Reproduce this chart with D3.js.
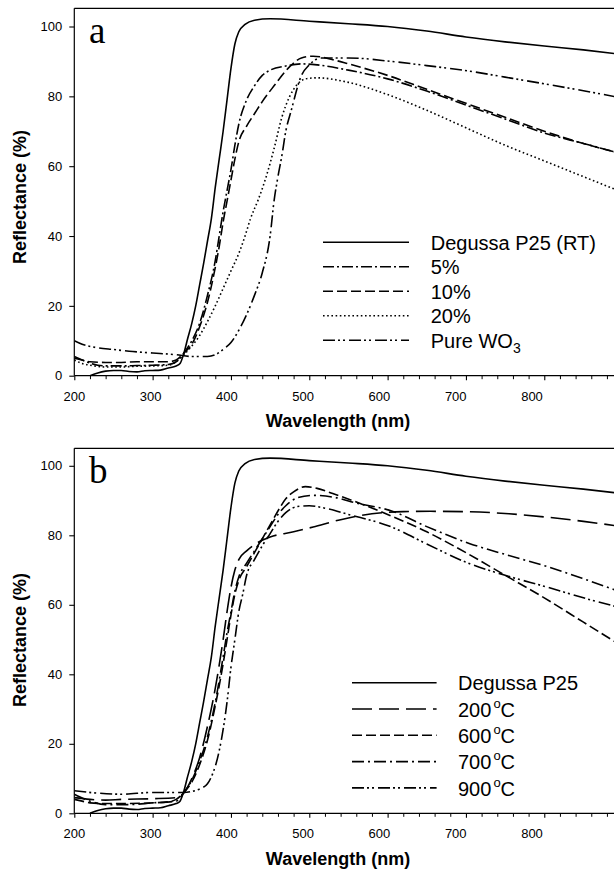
<!DOCTYPE html>
<html>
<head>
<meta charset="utf-8">
<script src="https://cdn.jsdelivr.net/npm/d3@7"></script>
<style>
  html, body { margin: 0; padding: 0; background: #fff; }
  svg { display: block; }
  .tick text { font-family: "Liberation Sans", Arial, sans-serif; font-size: 13px; fill: #000; }
</style>
</head>
<body>
<svg id="chart" width="614" height="871"></svg>
<script>
// ---------------- data ----------------
const xTicksMajor = [200, 300, 400, 500, 600, 700, 800, 900];
const xTickLabels = ["200", "300", "400", "500", "600", "700", "800", ""];
const yTicks = [0, 20, 40, 60, 80, 100];

// Degussa P25 (room temperature), same sample in both panels
const degussaP25 = [[220,0],[230,0.8],[240,1.3],[250,1.5],[260,1.5],[270,1.2],[280,1.1],[290,1.4],[300,1.5],[310,1.6],[320,2.2],[330,2.8],[335,3.5],[340,6.5],[344,10],[350,15],[355,20],[360,26],[365,32],[370,38.5],[375,45],[380,54],[385,62],[390,70],[395,79],[400,88],[405,95],[410,98.5],[418,100.6],[430,101.8],[450,102.2],[500,101.5],[550,100.8],[600,100],[650,98.7],[700,97],[750,95.6],[800,94.4],[850,93.3],[900,92]];

// panel a
const wo3_5 = [[200,5.5],[210,4.5],[220,3.6],[230,3],[240,2.8],[260,2.8],[280,2.9],[300,3],[320,3.2],[330,4],[340,6.5],[350,10],[360,15],[370,23],[380,33],[385,40],[390,47],[395,53],[400,59],[405,66],[410,72],[420,79],[430,83],[440,86],[450,87.5],[470,88.7],[490,89.3],[510,89],[550,87.5],[600,85],[650,81.5],[700,77.5],[750,73.5],[800,69.5],[850,66.5],[900,63.5]];
const wo3_10 = [[200,5],[210,4.5],[220,4],[240,3.8],[260,3.8],[280,4],[300,4],[320,4],[330,4.5],[340,6.5],[350,9],[360,14],[370,21],[380,31],[385,37],[390,44],[395,50],[400,56],[405,62],[410,67],[420,71.5],[430,75],[440,78.5],[455,83],[475,88.5],[490,91],[505,91.5],[530,90.5],[550,89.3],[600,86],[650,82],[700,78],[750,74],[800,70],[850,66.5],[900,63.5]];
const wo3_20 = [[200,4.5],[210,3.5],[220,3],[240,2.5],[260,2.5],[280,2.7],[300,2.8],[320,3],[330,4],[340,6],[350,8.5],[360,11.5],[370,15.5],[380,20],[390,25],[400,30],[410,35],[418,40],[425,45],[435,50.5],[445,57],[455,65],[465,74],[475,80],[485,83.5],[495,85],[510,85.3],[550,84],[600,80.5],[650,76],[700,71],[750,66],[800,61.5],[850,57],[900,52.5]];
const pureWO3 = [[200,10],[210,9],[230,8],[250,7.5],[270,7],[300,6.5],[330,6],[350,5.5],[370,5.5],[380,6],[390,7.5],[400,9.5],[410,13],[420,17.5],[430,23],[440,29.5],[450,40],[455,50],[460,57],[465,63],[470,70],[477,76],[490,86],[500,89],[515,91],[550,91],[605,90],[650,88.8],[705,87.2],[750,85.5],[805,83.4],[850,81.6],[900,79.5]];

// panel b
const calc200 = [[200,4.5],[220,4],[240,3.8],[260,4],[300,4.2],[330,4.5],[340,6],[350,10],[360,16],[370,25],[380,36],[390,50],[395,58],[400,65],[405,70],[410,73],[420,75.5],[435,78],[450,79.5],[480,81],[505,82.4],[540,84.5],[580,86.2],[620,86.8],[655,86.9],[700,86.8],[755,86.2],[800,85.3],[850,84],[900,82.5]];
const calc600 = [[200,4],[210,3.5],[220,3],[240,2.8],[260,2.8],[300,3],[320,3.3],[330,4],[340,6],[350,9],[360,14],[370,21],[380,31],[390,43],[395,50],[400,57],[405,63],[410,67],[420,71],[430,75],[440,79],[450,83],[460,87],[470,90.5],[480,92.5],[495,94],[510,93.5],[530,92],[555,90],[600,86],[650,81],[700,75],[750,68.5],[800,62],[850,55],[900,48]];
const calc700 = [[200,5.5],[220,3.5],[240,2.5],[270,2.5],[300,3],[330,3.5],[340,6],[350,9.5],[360,15],[370,22],[380,32],[390,45],[395,52],[400,58],[405,64],[410,68],[420,72],[430,75.5],[440,79],[450,82.5],[460,86],[470,88.5],[485,90.8],[505,91.5],[530,91],[560,89.3],[605,87],[650,82.5],[705,77.6],[750,74.5],[805,70.9],[850,67.5],[900,63.5]];
const calc900 = [[200,6.5],[230,5.8],[260,5.5],[300,6],[330,6],[340,6],[350,6.3],[360,7],[370,8.5],[375,10.5],[385,18],[395,32],[400,42],[405,50],[410,58],[415,63],[420,68.5],[430,73],[440,77],[450,80.5],[460,84],[470,86.5],[485,88.3],[500,88.5],[520,87.8],[550,86],[605,82.4],[650,77.5],[705,71.8],[750,68.5],[805,65],[850,62],[900,59]];

const legendA = ["Degussa P25 (RT)", "5%", "10%", "20%", "Pure WO3"];
const legendB = ["Degussa P25", "200 °C", "600 °C", "700 °C", "900 °C"];

// ---------------- drawing ----------------
const svg = d3.select("#chart");
svg.append("rect").attr("width", 614).attr("height", 871).attr("fill", "#fff");

const x = d3.scaleLinear().domain([200, 900]).range([74.3, 622.6]);
// tick labels in the original sit on a slightly tighter spacing than the ticks
const xLab = d3.scaleLinear().domain([200, 800]).range([73.8, 531.5]);

const dash = {
  solid: null,
  dashDot: "11,3,2,3",
  dashed: "10,4",
  dotted: "1.6,2.6",
  dashDotDot: "12,3,2,3,2,4",
  longDash: "20,7",
  dashDotB: "12,4,2,4"
};

const panels = [
  {
    name: "a", top: 8.3, bottom: 375.7, y100: 26.5,
    series: [
      {data: degussaP25, dash: dash.solid, label: legendA[0]},
      {data: wo3_5, dash: dash.dashDot, label: legendA[1]},
      {data: wo3_10, dash: dash.dashed, label: legendA[2]},
      {data: wo3_20, dash: dash.dotted, label: legendA[3]},
      {data: pureWO3, dash: dash.dashDotDot, label: legendA[4]}
    ],
    leg: {x1: 323, x2: 409, tx: 430.7, y0: 242.3, dy: 24.5},
    yLabelY: 197, xLabelY: 427
  },
  {
    name: "b", top: 448.3, bottom: 813.3, y100: 465.8,
    series: [
      {data: degussaP25, dash: dash.solid, label: legendB[0]},
      {data: calc200, dash: dash.longDash, label: legendB[1]},
      {data: calc600, dash: dash.dashed, label: legendB[2]},
      {data: calc700, dash: dash.dashDotB, label: legendB[3]},
      {data: calc900, dash: dash.dashDotDot, label: legendB[4]}
    ],
    leg: {x1: 352, x2: 436.6, tx: 458, y0: 682.7, dy: 26.3},
    yLabelY: 640, xLabelY: 865
  }
];

panels.forEach((p, pi) => {
  const y = d3.scaleLinear().domain([0, 100]).range([p.bottom, p.y100]);
  const g = svg.append("g");

  // clip
  const clipId = "clip" + pi;
  svg.append("clipPath").attr("id", clipId)
    .append("rect").attr("x", x(200)).attr("y", p.top)
    .attr("width", 614 - x(200)).attr("height", p.bottom - p.top + 1);

  // frame (top and left)
  g.append("line").attr("x1", x(200)).attr("x2", 614).attr("y1", p.top).attr("y2", p.top)
    .attr("stroke", "#000").attr("stroke-width", 1.2);
  g.append("line").attr("x1", x(200)).attr("x2", x(200)).attr("y1", p.top).attr("y2", p.bottom)
    .attr("stroke", "#000").attr("stroke-width", 1.2);
  g.append("line").attr("x1", x(200)).attr("x2", 614).attr("y1", p.bottom).attr("y2", p.bottom)
    .attr("stroke", "#000").attr("stroke-width", 1.2);

  // x axis majors
  const xAxis = d3.axisBottom(x).tickValues(xTicksMajor)
    .tickFormat((d, i) => xTickLabels[i]).tickSizeInner(4.5).tickSizeOuter(0).tickPadding(11.3);
  const gx = g.append("g").attr("transform", `translate(0,${p.bottom})`).call(xAxis);
  gx.select(".domain").remove();
  gx.selectAll(".tick line").attr("stroke-width", 1.1);
  gx.selectAll(".tick text").attr("x", d => (d <= 800 ? xLab(d) - x(d) : 0));
  // x axis minors
  const minors = d3.range(220, 900, 20).filter(v => v % 100 !== 0);
  const gxm = g.append("g").attr("transform", `translate(0,${p.bottom})`)
    .call(d3.axisBottom(x).tickValues(minors).tickSizeInner(3.5).tickSizeOuter(0).tickFormat(""));
  gxm.select(".domain").remove();
  gxm.selectAll(".tick line").attr("stroke-width", 1);

  // y axis
  const gy = g.append("g").attr("transform", `translate(${x(200)},0)`)
    .call(d3.axisLeft(y).tickValues(yTicks).tickSizeInner(5).tickSizeOuter(0).tickPadding(7));
  gy.select(".domain").remove();
  gy.selectAll(".tick line").attr("stroke-width", 1.1);

  // curves
  const line = d3.line().x(d => x(d[0])).y(d => y(d[1])).curve(d3.curveMonotoneX);
  const gl = g.append("g").attr("clip-path", `url(#${clipId})`);
  p.series.forEach(s => {
    gl.append("path").attr("d", line(s.data)).attr("fill", "none")
      .attr("stroke", "#000").attr("stroke-width", 1.6)
      .attr("stroke-dasharray", s.dash);
  });

  // legend
  p.series.forEach((s, i) => {
    const ly = p.leg.y0 + i * p.leg.dy;
    g.append("line").attr("x1", p.leg.x1).attr("x2", p.leg.x2).attr("y1", ly).attr("y2", ly)
      .attr("stroke", "#000").attr("stroke-width", 1.6).attr("stroke-dasharray", s.dash);
    const t = g.append("text").attr("x", p.leg.tx).attr("y", ly + 7.6)
      .attr("font-family", "Liberation Sans, Arial, sans-serif").attr("font-size", 20).attr("fill", "#000");
    const lab = s.label;
    if (lab.endsWith("WO3")) {
      t.append("tspan").text(lab.slice(0, -1));
      t.append("tspan").attr("dy", 5).attr("font-size", 14).text("3");
    } else if (lab.includes("°C")) {
      const num = lab.split(" ")[0];
      t.append("tspan").text(num);
      t.append("tspan").attr("dx", 2).attr("dy", -9).attr("font-size", 13).text("o");
      t.append("tspan").attr("dy", 9).text("C");
    } else {
      t.text(lab);
    }
  });

  // panel letter
  g.append("text").attr("x", 89).attr("y", p.top + 34.5)
    .attr("font-family", "Liberation Serif, Times New Roman, serif").attr("font-size", 37)
    .attr("fill", "#000").text(p.name);

  // axis titles
  g.append("text").attr("x", 338).attr("y", p.xLabelY).attr("text-anchor", "middle")
    .attr("font-family", "Liberation Sans, Arial, sans-serif").attr("font-weight", "bold")
    .attr("font-size", 18).attr("fill", "#000").text("Wavelength (nm)");
  g.append("text").attr("transform", `translate(25.5,${p.yLabelY}) rotate(-90)`)
    .attr("text-anchor", "middle")
    .attr("font-family", "Liberation Sans, Arial, sans-serif").attr("font-weight", "bold")
    .attr("font-size", 18).attr("fill", "#000").text("Reflectance (%)");
});
</script>
</body>
</html>
